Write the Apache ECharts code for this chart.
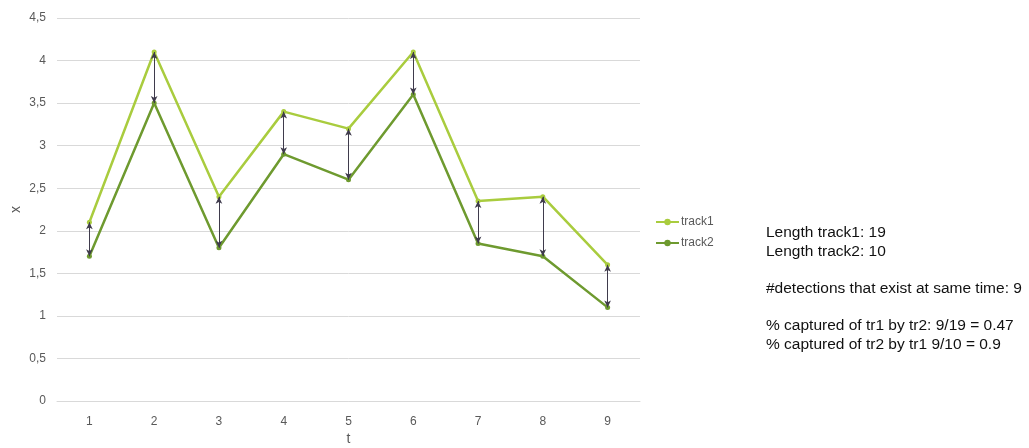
<!DOCTYPE html>
<html>
<head>
<meta charset="utf-8">
<script src="https://cdn.jsdelivr.net/npm/echarts@6/dist/echarts.min.js"></script>
<style>
  html, body { margin: 0; padding: 0; background: #ffffff; }
  #chart { width: 1029px; height: 448px; }
</style>
</head>
<body>
<div id="chart"></div>
<script>
// Time steps and positions of the two tracks
const tValues = ['1', '2', '3', '4', '5', '6', '7', '8', '9'];
const track1 = [2.1, 4.1, 2.4, 3.4, 3.2, 4.1, 2.35, 2.4, 1.6];
const track2 = [1.7, 3.5, 1.8, 2.9, 2.6, 3.6, 1.85, 1.7, 1.1];

// Summary statistics shown beside the plot
const statLines = [
  ['Length track1: 19', 'Length track2: 10'],
  ['#detections that exist at same time: 9'],
  ['% captured of tr1 by tr2: 9/19 = 0.47', '% captured of tr2 by tr1 9/10 = 0.9']
];

const c1 = '#a9cc3e';
const c2 = '#6e9a2f';
const arrowColor = '#3f3b4c';

// Double-headed arrows linking detections of both tracks at the same time
const linkLines = tValues.map((t, i) => [
  { coord: [t, track2[i]] },
  { coord: [t, track1[i]] }
]);

const chart = echarts.init(document.getElementById('chart'), null, { renderer: 'canvas' });

const textEls = [];
let y = 225;
statLines.forEach((group) => {
  group.forEach((line) => {
    textEls.push({
      type: 'text', left: 766, top: y,
      style: { text: line, fill: '#111111', font: '15.5px "Liberation Sans", Arial, sans-serif' }
    });
    y += 19;
  });
  y += 18;
});

chart.setOption({
  animation: false,
  grid: { left: 57, right: 389, top: 18, bottom: 47, outerBoundsMode: 'none', containLabel: false },
  legend: {
    orient: 'vertical', left: 650, top: 211,
    itemWidth: 23, itemHeight: 8, itemGap: 9,
    textStyle: { color: '#595959', fontSize: 12, fontFamily: 'Liberation Sans, Arial, sans-serif', padding: [0, 0, 0, -3] },
    data: ['track1', 'track2']
  },
  xAxis: {
    type: 'category', data: tValues, boundaryGap: true,
    name: 't', nameLocation: 'middle', nameGap: 31, nameMoveOverlap: false,
    nameTextStyle: { color: '#595959', fontSize: 14 },
    axisLine: { show: true, lineStyle: { color: '#d9d9d9' } },
    axisTick: { show: false },
    axisLabel: { color: '#595959', fontSize: 12, margin: 15 }
  },
  yAxis: {
    type: 'value', min: 0, max: 4.5, interval: 0.5,
    name: 'x', nameLocation: 'middle', nameGap: 34, nameMoveOverlap: false,
    nameTextStyle: { color: '#595959', fontSize: 14 },
    axisLine: { show: false }, axisTick: { show: false },
    splitLine: { lineStyle: { color: '#d9d9d9', width: 1 } },
    axisLabel: {
      color: '#595959', fontSize: 12, margin: 11,
      formatter: (v) => String(v).replace('.', ',')
    }
  },
  series: [
    {
      name: 'track1', type: 'line', data: track1,
      symbol: 'circle', symbolSize: 5,
      lineStyle: { color: c1, width: 2.5 },
      itemStyle: { color: c1 }
    },
    {
      name: 'track2', type: 'line', data: track2,
      symbol: 'circle', symbolSize: 5,
      lineStyle: { color: c2, width: 2.5 },
      itemStyle: { color: c2 },
      markLine: {
        silent: true,
        symbol: ['arrow', 'arrow'], symbolSize: [5, 7],
        label: { show: false },
        lineStyle: { color: arrowColor, width: 1, type: 'solid' },
        data: linkLines
      }
    }
  ],
  graphic: textEls
});
</script>
</body>
</html>
